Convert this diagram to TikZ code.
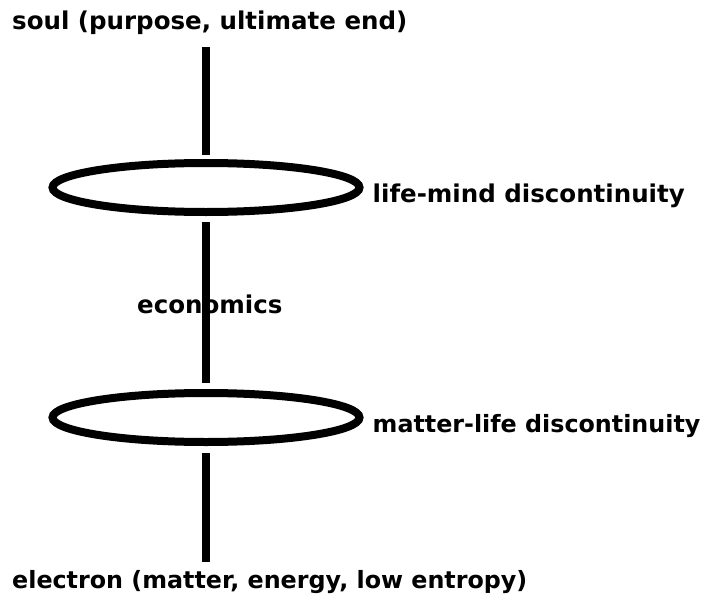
\documentclass[tikz,border=0pt]{standalone}
\usepackage{fontspec}
\setmainfont{DejaVu Sans}
\usepackage{tikz}
\usetikzlibrary{
  shapes.geometric,
  positioning
}

\begin{document}
\begin{tikzpicture}[
  x=1pt, y=-1pt,
  txt/.style ={inner sep=0pt, font=\fontsize{24.5}{29}\selectfont\bfseries},
  small/.style={font=\fontsize{23.8}{28}\selectfont\bfseries},
  ring/.style={ellipse, draw, line width=8pt, inner sep=0pt,
               minimum width=307pt, minimum height=49pt},
  axis/.style={line width=8.5pt}
]
\useasboundingbox (0,0) rectangle (710,605);

\node[txt, anchor=base west] (soul) at (12,29) {soul (purpose, ultimate end)};
\node[ring] (lifemind) at (206,187.5) {};
\node[ring] (matlife)  at (206,417.5) {};
\node[txt, small, anchor=base west] (electron) at (12,588) {electron (matter, energy, low entropy)};

\node[txt, anchor=base west] (lmtext) at ([xshift=9pt,yshift=-14.5pt]lifemind.east) {life-mind discontinuity};
\node[txt, small, anchor=base west] (mltext) at ([xshift=9pt,yshift=-14.5pt]matlife.east) {matter-life discontinuity};
\node[txt, anchor=base west] (econ) at (137,313) {economics};

% vertical axis, drawn over the economics label
\draw[axis, shorten <=13pt, shorten >=4pt] (soul.south -| lifemind.north) -- (lifemind.north);
\draw[axis, shorten <=6pt, shorten >=6pt] (lifemind.south) -- (matlife.north);
\draw[axis, shorten <=7pt, shorten >=8pt] (matlife.south) -- (electron.north -| matlife.south);
\end{tikzpicture}
\end{document}
